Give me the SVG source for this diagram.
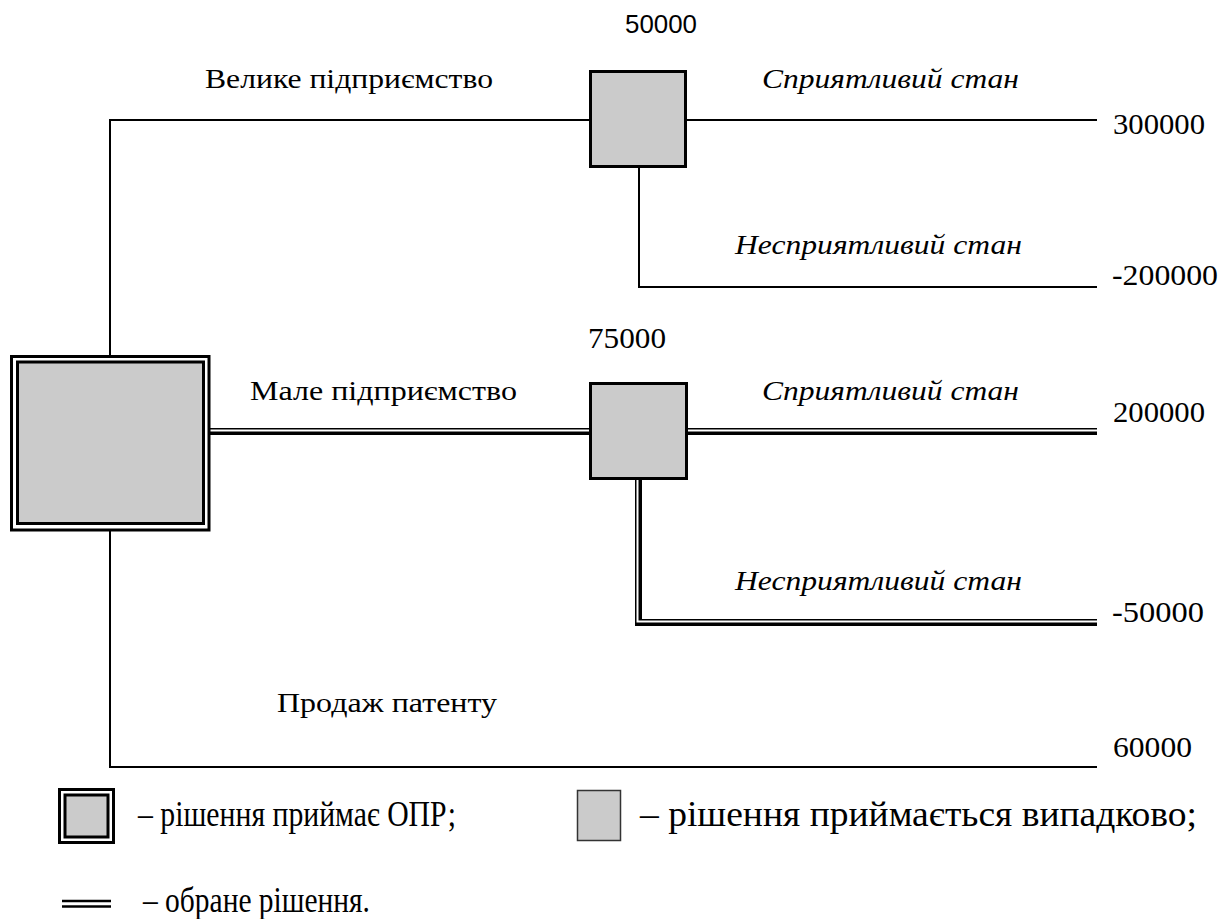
<svg xmlns="http://www.w3.org/2000/svg" width="1230" height="919" viewBox="0 0 1230 919">
<style>
.ln{fill:none;stroke:#000;stroke-width:2}
.dblo{fill:none;stroke:#000;stroke-width:7;stroke-linejoin:miter}
.dbli{fill:none;stroke:#fff;stroke-width:2;stroke-linejoin:miter}
.chance{fill:#cbcbcb;stroke:#000;stroke-width:3}
.t{font-family:"Liberation Serif","DejaVu Serif",serif;font-size:28px;fill:#000}
.n{font-family:"Liberation Serif","DejaVu Serif",serif;font-size:29px;fill:#000}
.i{font-family:"Liberation Serif","DejaVu Serif",serif;font-size:28px;font-style:italic;fill:#000}
.s{font-family:"Liberation Sans",Arial,sans-serif;font-size:25px;fill:#000}
.lg{font-family:"Liberation Serif","DejaVu Serif",serif;font-size:35px;fill:#000}
</style>
<rect width="1230" height="919" fill="#fff"/>
<g id="connectors">
<path class="ln" d="M110 355 V120 H590"/>
<path class="ln" d="M686 120 H1097"/>
<path class="ln" d="M639 167 V287 H1097"/>
<path class="ln" d="M110 531 V767 H1097"/>
<path class="dblo" d="M210 431.5 H590"/>
<path class="dbli" d="M210 430.5 H590"/>
<path class="dblo" d="M687 431.5 H1097"/>
<path class="dbli" d="M687 430.5 H1097"/>
<path class="dblo" d="M638.5 479 V622.5 H1097"/>
<path class="dbli" d="M637.5 479 V621.5 H1097"/>
</g>
<g id="decision">
<rect x="11.5" y="356.5" width="197.5" height="173.5" fill="#fff" stroke="#000" stroke-width="3"/>
<rect x="17.5" y="362" width="186" height="161.5" fill="#cbcbcb" stroke="#000" stroke-width="3"/>
</g>
<g id="chance1">
<rect class="chance" x="590.5" y="71.5" width="95" height="95"/>
<text class="s" x="625" y="33" textLength="72" lengthAdjust="spacingAndGlyphs">50000</text>
</g>
<g id="chance2">
<rect class="chance" x="590.5" y="383.5" width="96" height="95"/>
<text class="n" x="588" y="348" textLength="78" lengthAdjust="spacingAndGlyphs">75000</text>
</g>
<g id="labels">
<text class="t" x="205" y="88" textLength="288" lengthAdjust="spacingAndGlyphs">Велике підприємство</text>
<text class="t" x="250" y="400" textLength="267" lengthAdjust="spacingAndGlyphs">Мале підприємство</text>
<text class="t" x="277" y="712" textLength="220" lengthAdjust="spacingAndGlyphs">Продаж патенту</text>
<text class="i" x="762" y="88" textLength="257" lengthAdjust="spacingAndGlyphs">Сприятливий стан</text>
<text class="i" x="735" y="254" textLength="287" lengthAdjust="spacingAndGlyphs">Несприятливий стан</text>
<text class="i" x="762" y="400" textLength="257" lengthAdjust="spacingAndGlyphs">Сприятливий стан</text>
<text class="i" x="735" y="590" textLength="287" lengthAdjust="spacingAndGlyphs">Несприятливий стан</text>
</g>
<g id="payoffs">
<text class="n" x="1113" y="134" textLength="92" lengthAdjust="spacingAndGlyphs">300000</text>
<text class="n" x="1112" y="285" textLength="106" lengthAdjust="spacingAndGlyphs">-200000</text>
<text class="n" x="1113" y="422" textLength="92" lengthAdjust="spacingAndGlyphs">200000</text>
<text class="n" x="1112" y="622" textLength="92" lengthAdjust="spacingAndGlyphs">-50000</text>
<text class="n" x="1113" y="757" textLength="79" lengthAdjust="spacingAndGlyphs">60000</text>
</g>
<g id="legend">
<rect x="59.5" y="789.5" width="54" height="53" fill="#fff" stroke="#000" stroke-width="3"/>
<rect x="65" y="795" width="43" height="42" fill="#cbcbcb" stroke="#000" stroke-width="3"/>
<text class="lg" x="138" y="826" textLength="318" lengthAdjust="spacingAndGlyphs">– рішення приймає ОПР;</text>
<rect x="577.5" y="790.5" width="43" height="50" fill="#cbcbcb" stroke="#333" stroke-width="1.5"/>
<text class="lg" x="640" y="826" textLength="557" lengthAdjust="spacingAndGlyphs">– рішення приймається випадково;</text>
<line x1="62" y1="901" x2="111" y2="901" stroke="#000" stroke-width="2.5"/>
<line x1="62" y1="906.5" x2="111" y2="906.5" stroke="#000" stroke-width="2.5"/>
<text class="lg" x="143" y="912" textLength="227" lengthAdjust="spacingAndGlyphs">– обране рішення.</text>
</g>
</svg>
